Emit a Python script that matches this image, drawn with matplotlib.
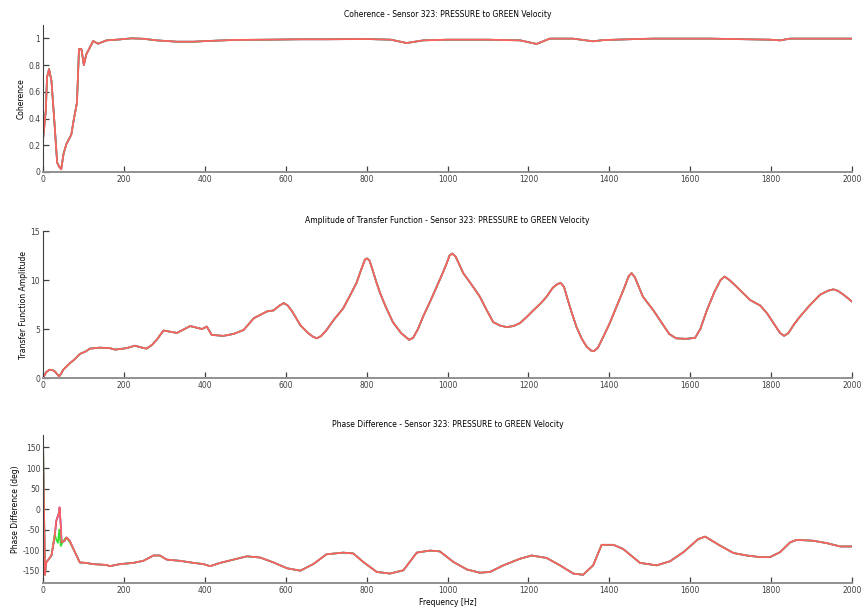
import matplotlib
matplotlib.use("Agg")
import matplotlib.pyplot as plt

# coherence
coh_f = [0, 7, 10, 15, 21, 29, 35, 40, 45, 51, 58, 70, 76, 84, 89, 95, 101, 107, 124, 136,
         157, 182, 219, 248, 281, 331, 372, 405, 471, 554, 636, 700, 800, 860, 899, 940, 1000,
         1100, 1180, 1220, 1253, 1310, 1360, 1385, 1468, 1509, 1649, 1798, 1822, 1847, 2000]
coh = [0.24, 0.46, 0.71, 0.77, 0.68, 0.34, 0.07, 0.04, 0.02, 0.14, 0.21, 0.28, 0.39, 0.52, 0.92,
       0.92, 0.80, 0.88, 0.98, 0.96, 0.985, 0.99, 1.0, 0.997, 0.985, 0.975, 0.975, 0.98, 0.988,
       0.99, 0.993, 0.993, 0.995, 0.99, 0.965, 0.985, 0.99, 0.99, 0.985, 0.958, 0.998, 0.998,
       0.978, 0.987, 0.995, 0.998, 0.998, 0.99, 0.985, 0.998, 0.998]

# transfer function amplitude
amp_f = [0, 8, 16, 24, 29, 35, 40, 45, 50, 66, 78, 91, 105, 116, 140, 165, 178, 207, 227, 245,
         256, 270, 281, 298, 331, 364, 393, 405, 417, 446, 471, 496, 521, 554, 570, 585, 595, 605,
         616, 636, 655, 668, 677, 688, 701, 720, 742, 760, 775, 786, 796, 801, 807, 815, 824, 833,
         848, 865, 885, 905, 915, 927, 940, 957, 973, 988, 998, 1005, 1012, 1020, 1030, 1039,
         1060, 1080, 1096, 1113, 1130, 1146, 1163, 1179, 1195, 1212, 1230, 1245, 1260, 1272,
         1280, 1288, 1295, 1306, 1319, 1332, 1344, 1355, 1362, 1372, 1385, 1400, 1418, 1435,
         1448, 1455, 1463, 1483, 1509, 1530, 1548, 1565, 1590, 1612, 1625, 1641, 1660, 1675,
         1685, 1697, 1715, 1748, 1773, 1790, 1806, 1822, 1832, 1843, 1857, 1871, 1895, 1921,
         1940, 1954, 1965, 1979, 2000]
amp = [0, 0.6, 0.85, 0.8, 0.68, 0.4, 0.17, 0.45, 0.85, 1.5, 1.9, 2.45, 2.7, 3.0, 3.1, 3.05, 2.9,
       3.05, 3.3, 3.1, 3.0, 3.4, 3.9, 4.85, 4.6, 5.3, 5.0, 5.25, 4.4, 4.3, 4.5, 4.9, 6.1, 6.8, 6.9,
       7.4, 7.65, 7.4, 6.8, 5.4, 4.6, 4.2, 4.05, 4.3, 4.9, 6.0, 7.1, 8.5, 9.7, 11.0, 12.1, 12.2,
       12.0, 11.0, 9.8, 8.7, 7.2, 5.7, 4.6, 3.9, 4.1, 5.0, 6.3, 7.8, 9.3, 10.7, 11.7, 12.5, 12.7,
       12.4, 11.5, 10.7, 9.5, 8.3, 7.0, 5.7, 5.35, 5.2, 5.3, 5.6, 6.2, 6.9, 7.6, 8.3, 9.2, 9.6,
       9.7, 9.3, 8.3, 6.8, 5.2, 4.0, 3.2, 2.8, 2.75, 3.1, 4.2, 5.5, 7.3, 9.0, 10.4, 10.7, 10.3,
       8.3, 6.9, 5.6, 4.5, 4.05, 4.0, 4.1, 5.0, 6.9, 8.8, 10.0, 10.35, 10.0, 9.3, 7.96, 7.4, 6.6,
       5.6, 4.6, 4.3, 4.6, 5.5, 6.25, 7.4, 8.5, 8.9, 9.05, 8.9, 8.5, 7.8]

# phase difference
ph_f = [0, 1, 5, 8, 21, 29, 33, 40, 41, 44, 46, 54, 58, 66, 79, 91, 107, 124, 157, 165, 190, 223,
        248, 273, 289, 306, 339, 372, 397, 413, 438, 471, 504, 537, 570, 603, 636, 668, 701, 742,
        767, 792, 825, 858, 891, 924, 957, 981, 1015, 1048, 1080, 1105, 1138, 1179, 1208, 1245,
        1278, 1311, 1335, 1360, 1381, 1410, 1434, 1476, 1517, 1550, 1583, 1620, 1637, 1674, 1707,
        1740, 1773, 1797, 1822, 1847, 1863, 1904, 1938, 1971, 2000]
ph = [180, 90, -160, -130, -113, -65, -28, -8, 4, -40, -81, -77, -69, -77, -105, -130, -131, -134,
      -136, -139, -134, -131, -126, -113, -113, -123, -126, -131, -134, -139, -131, -123, -115,
      -118, -130, -144, -150, -134, -110, -106, -108, -129, -153, -157, -149, -106, -101, -103,
      -129, -147, -155, -153, -137, -121, -113, -119, -137, -157, -160, -137, -87, -87, -97, -131,
      -137, -127, -105, -73, -67, -89, -107, -113, -117, -117, -105, -81, -75, -77, -83, -91, -91]
# green run departs from the others below ~90 Hz
ph_green_low_f = [0, 5, 8, 21, 29, 33, 37, 40, 44, 48, 54, 58, 66, 79]
ph_green_low = [180, -160, -130, -113, -60, -75, -82, -50, -90, -82, -72, -70, -80, -105]

title_tail = " - Sensor 323: PRESSURE to GREEN Velocity"
x_ticks = list(range(0, 2001, 200))

fig = plt.figure(figsize=(8.65, 6.11), dpi=100)
rects = [[0.0497, 0.7185, 0.9353, 0.2406],
         [0.0497, 0.3813, 0.9353, 0.2406],
         [0.0497, 0.0458, 0.9353, 0.2420]]
axes = [fig.add_axes(r) for r in rects]

green_ph_f = ph_green_low_f + [f for f in ph_f if f >= 91]
green_ph = ph_green_low + [v for f, v in zip(ph_f, ph) if f >= 91]

panels = [
    (axes[0], (coh_f, coh), (coh_f, coh), "Coherence", "Coherence", (0, 1.1), [0, 0.2, 0.4, 0.6, 0.8, 1]),
    (axes[1], (amp_f, amp), (amp_f, amp), "Amplitude of Transfer Function", "Transfer Function Amplitude",
     (0, 15), [0, 5, 10, 15]),
    (axes[2], (ph_f, ph), (green_ph_f, green_ph), "Phase Difference", "Phase Difference (deg)",
     (-180, 180), [-150, -100, -50, 0, 50, 100, 150]),
]

for ax, main, green, name, ylab, ylim, yt in panels:
    ax.plot(main[0], main[1], color="#3030ff", lw=1.2)
    ax.plot(green[0], green[1], color="#30e030", lw=1.2)
    ax.plot(main[0], main[1], color="#ff6060", lw=1.3)
    ax.set_xlim(0, 2000)
    ax.set_ylim(*ylim)
    ax.set_xticks(x_ticks)
    ax.set_yticks(yt)
    ax.set_yticklabels([("%g" % v) for v in yt])
    ax.set_title(name + title_tail, fontsize=5.5, pad=6)
    ax.set_ylabel(ylab, fontsize=5.5, labelpad=2)
    ax.spines["top"].set_visible(False)
    ax.spines["right"].set_visible(False)
    ax.spines["left"].set_color("#404040")
    ax.spines["bottom"].set_color("#909090")
    ax.spines["bottom"].set_linewidth(1.4)
    ax.tick_params(direction="in", length=4, width=0.9, colors="#404040", labelsize=5.5, pad=2)

axes[2].set_xlabel("Frequency [Hz]", fontsize=5.5, labelpad=2)

fig.savefig("out.png", dpi=100)
